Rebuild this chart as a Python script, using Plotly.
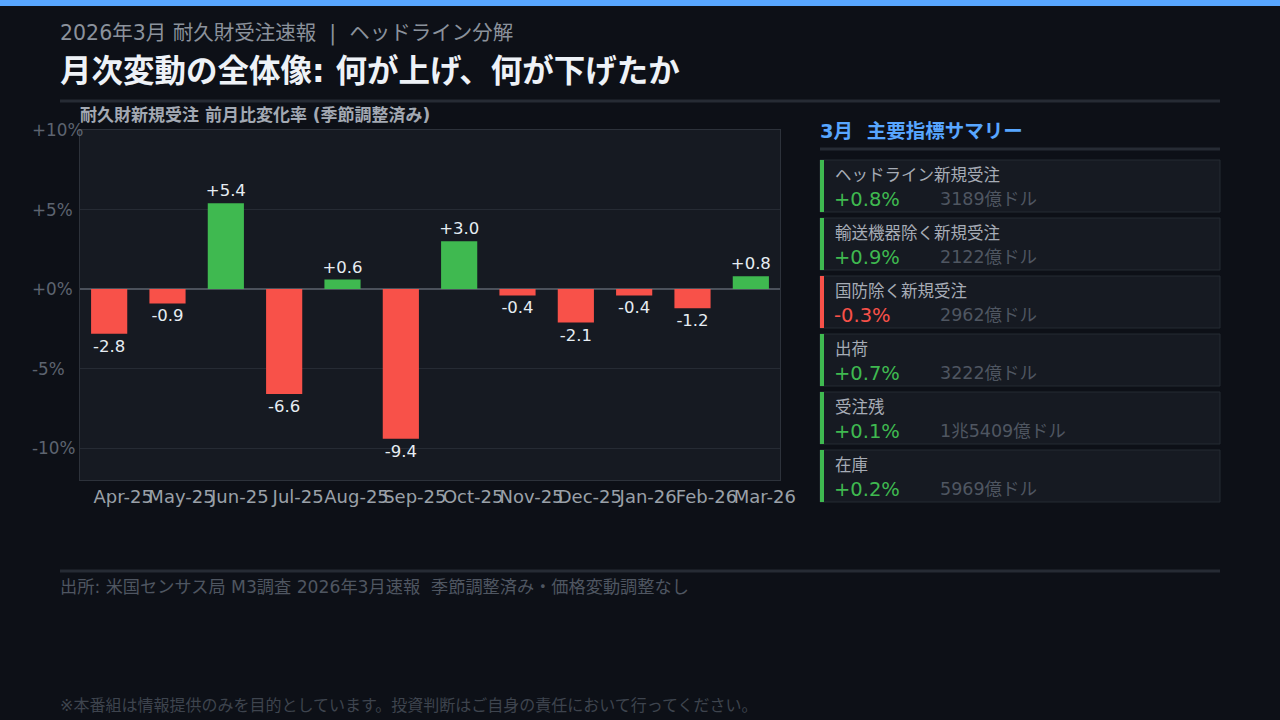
import plotly.graph_objects as go

# ---------------- data ----------------
months = ["Apr-25", "May-25", "Jun-25", "Jul-25", "Aug-25", "Sep-25",
          "Oct-25", "Nov-25", "Dec-25", "Jan-26", "Feb-26", "Mar-26"]
mom_change = [-2.8, -0.9, 5.4, -6.6, 0.6, -9.4, 3.0, -0.4, -2.1, -0.4, -1.2, 0.8]
ytick_vals = [10, 5, 0, -5, -10]
ytick_text = ["+10%", "+5%", "+0%", "-5%", "-10%"]

summary_labels = ["ヘッドライン新規受注", "輸送機器除く新規受注", "国防除く新規受注",
                  "出荷", "受注残", "在庫"]
summary_changes = [0.8, 0.9, -0.3, 0.7, 0.1, 0.2]
summary_amounts = ["3189億ドル", "2122億ドル", "2962億ドル", "3222億ドル",
                   "1兆5409億ドル", "5969億ドル"]

# ---------------- style ----------------
BG = "#0d1017"
PLOT_BG = "#161a22"
GREEN = "#3fb950"
RED = "#f85149"
BLUE = "#58a6ff"
FONT = "'DejaVu Sans', 'Noto Sans CJK JP', sans-serif"

W, H = 1280, 720
PL, PR, PT, PB = 80, 780, 130, 480  # plot area pixels


def px(x):
    return (x - PL) / (PR - PL)


def py(y):
    return (PB - y) / (PB - PT)


colors = [GREEN if v >= 0 else RED for v in mom_change]
labels = [f"{v:+.1f}" for v in mom_change]

fig = go.Figure()
fig.add_trace(go.Bar(
    x=months, y=mom_change, marker_color=colors, marker_line_width=0,
    text=labels, textposition="outside", cliponaxis=False, constraintext="none",
    textfont=dict(size=16.5, color="#e6edf3", family=FONT),
    width=0.62, hoverinfo="skip",
))

shapes = []
annotations = []

# top accent bar
shapes.append(dict(type="rect", xref="paper", yref="paper",
                   x0=px(0), x1=px(W), y0=py(0), y1=py(6),
                   fillcolor=BLUE, line_width=0, layer="above"))
# header divider
shapes.append(dict(type="line", xref="paper", yref="paper",
                   x0=px(60), x1=px(1220), y0=py(101), y1=py(101),
                   line=dict(color="#262b34", width=3)))
# footer divider
shapes.append(dict(type="line", xref="paper", yref="paper",
                   x0=px(60), x1=px(1220), y0=py(571), y1=py(571),
                   line=dict(color="#262b34", width=3)))
# right panel divider
shapes.append(dict(type="line", xref="paper", yref="paper",
                   x0=px(820), x1=px(1220), y0=py(149), y1=py(149),
                   line=dict(color="#262b34", width=3)))

# header texts
annotations.append(dict(text="2026年3月 耐久財受注速報  |  ヘッドライン分解",
                        xref="paper", yref="paper", x=px(58), y=py(33),
                        xanchor="left", yanchor="middle", showarrow=False,
                        font=dict(size=20.5, color="#8b929c", family=FONT)))
annotations.append(dict(text="<b>月次変動の全体像: 何が上げ、何が下げたか</b>",
                        xref="paper", yref="paper", x=px(58), y=py(71),
                        xanchor="left", yanchor="middle", showarrow=False,
                        font=dict(size=31.5, color="#eef2f7", family=FONT)))
annotations.append(dict(text="<b>耐久財新規受注 前月比変化率 (季節調整済み)</b>",
                        xref="paper", yref="paper", x=px(78), y=py(115),
                        xanchor="left", yanchor="middle", showarrow=False,
                        font=dict(size=17, color="#a3a9b3", family=FONT)))

# y tick labels (left-aligned)
for v, t in zip(ytick_vals, ytick_text):
    annotations.append(dict(text=t, xref="paper", yref="y", x=px(30), y=v,
                            xanchor="left", yanchor="middle", showarrow=False,
                            font=dict(size=16.8, color="#5d6470", family=FONT)))

# right panel title
annotations.append(dict(text="<b>3月  主要指標サマリー</b>",
                        xref="paper", yref="paper", x=px(818), y=py(131),
                        xanchor="left", yanchor="middle", showarrow=False,
                        font=dict(size=19.5, color=BLUE, family=FONT)))

# cards
card_top0, card_h, card_gap = 160, 52, 6
for i, (lab, chg, amt) in enumerate(zip(summary_labels, summary_changes, summary_amounts)):
    top = card_top0 + i * (card_h + card_gap)
    bot = top + card_h
    c = GREEN if chg >= 0 else RED
    shapes.append(dict(type="rect", xref="paper", yref="paper",
                       x0=px(820), x1=px(1220), y0=py(bot), y1=py(top),
                       fillcolor="#161a22", line=dict(color="#252a33", width=1)))
    shapes.append(dict(type="rect", xref="paper", yref="paper",
                       x0=px(820), x1=px(824), y0=py(bot), y1=py(top),
                       fillcolor=c, line_width=0))
    annotations.append(dict(text=lab, xref="paper", yref="paper",
                            x=px(833), y=py(top + 15), xanchor="left", yanchor="middle",
                            showarrow=False,
                            font=dict(size=16.5, color="#a6acb6", family=FONT)))
    annotations.append(dict(text=f"{chg:+.1f}%", xref="paper", yref="paper",
                            x=px(832), y=py(top + 39), xanchor="left", yanchor="middle",
                            showarrow=False,
                            font=dict(size=19.5, color=c, family=FONT)))
    annotations.append(dict(text=amt, xref="paper", yref="paper",
                            x=px(938), y=py(top + 39), xanchor="left", yanchor="middle",
                            showarrow=False,
                            font=dict(size=17.5, color="#4f5661", family=FONT)))

# footer texts
annotations.append(dict(text="出所: 米国センサス局 M3調査 2026年3月速報  季節調整済み・価格変動調整なし",
                        xref="paper", yref="paper", x=px(58), y=py(587),
                        xanchor="left", yanchor="middle", showarrow=False,
                        font=dict(size=17.2, color="#4f5661", family=FONT)))
annotations.append(dict(text="※本番組は情報提供のみを目的としています。投資判断はご自身の責任において行ってください。",
                        xref="paper", yref="paper", x=px(58), y=py(705),
                        xanchor="left", yanchor="middle", showarrow=False,
                        font=dict(size=16, color="#3e444e", family=FONT)))

fig.update_layout(
    width=W, height=H,
    margin=dict(l=PL, r=W - PR, t=PT, b=H - PB, pad=0),
    paper_bgcolor=BG, plot_bgcolor=PLOT_BG,
    showlegend=False, bargap=0.38,
    shapes=shapes, annotations=annotations,
    font=dict(family=FONT, color="#9aa0a8"),
)
fig.update_xaxes(
    tickfont=dict(size=18, color="#9aa0a8", family=FONT), tickangle=0,
    ticklabelshift=14,
    showline=True, linecolor="#2d323b", linewidth=1, mirror=True,
    showgrid=False, ticks="", fixedrange=True,
)
fig.update_yaxes(
    range=[-12, 10], tickvals=ytick_vals, showticklabels=False,
    showgrid=True, gridcolor="#262b34", gridwidth=1,
    zeroline=True, zerolinecolor="#4b515b", zerolinewidth=2,
    showline=True, linecolor="#2d323b", linewidth=1, mirror=True,
    ticks="", fixedrange=True,
)

fig.write_html("out.html", config={"displayModeBar": False},
               post_script="document.body.style.margin='0';document.body.style.background='#0d1017';")
